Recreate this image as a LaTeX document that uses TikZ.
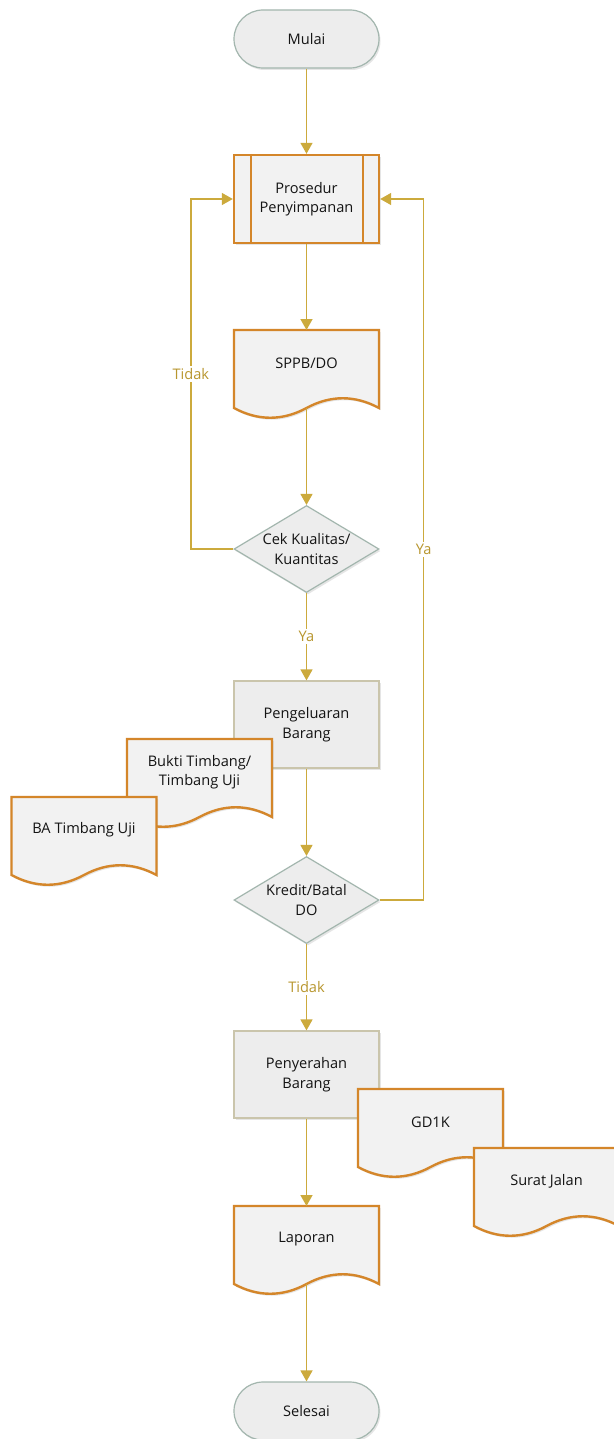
\documentclass[tikz,border=0pt]{standalone}
\usepackage{fontspec}
\setmainfont{Open Sans}
\usetikzlibrary{arrows.meta,shapes.geometric,shadows,calc}
\definecolor{gold}{RGB}{204,170,60}
\definecolor{goldtxt}{RGB}{184,150,46}
\definecolor{orng}{RGB}{212,134,42}
\definecolor{docfill}{RGB}{242,242,242}
\definecolor{termline}{RGB}{163,182,174}
\definecolor{procline}{RGB}{202,197,172}
\definecolor{shapefill}{RGB}{237,237,237}
\definecolor{txtcol}{RGB}{20,20,20}
\newcommand\docshape[4]{%
  \draw[docstyle] (#2-72.5,#3) -- (#2+72.5,#3) -- (#2+72.5,#3+78)
    .. controls (#2+48.5,#3+65) and (#2+24,#3+65) .. (#2,#3+78)
    .. controls (#2-24,#3+91) and (#2-48.5,#3+91) .. (#2-72.5,#3+78) -- cycle;
  \node[txt] (#1) at (#2,#3+33) {#4};
  \coordinate (#1-t) at (#2,#3);
  \coordinate (#1-b) at (#2,#3+78);
}
\begin{document}
\begin{tikzpicture}[x=1pt,y=-1pt,
  font=\fontsize{14.6}{19.5}\selectfont,
  shd/.style={drop shadow={opacity=0.2,shadow xshift=1.5pt,shadow yshift=-2pt}},
  txt/.style={align=center,text=txtcol,inner sep=1pt},
  term/.style={rectangle,rounded corners=29pt,draw=termline,line width=1.2pt,fill=shapefill,
    minimum width=145,minimum height=58,shd,text=txtcol},
  proc/.style={rectangle,draw=procline,line width=1.2pt,fill=shapefill,
    minimum width=145,minimum height=87,shd,align=center,text=txtcol},
  subproc/.style={rectangle,draw=orng,line width=2.4pt,fill=docfill,
    minimum width=145,minimum height=88,shd,align=center,text=txtcol},
  dia/.style={diamond,draw=termline,line width=1.2pt,fill=shapefill,
    minimum width=145,minimum height=87,inner sep=0pt,shd},
  docstyle/.style={draw=orng,line width=2.4pt,fill=docfill,shd},
  arr/.style={draw=gold,line width=1.4pt,-{Triangle[width=12pt,length=11pt]}},
  lbl/.style={fill=white,text=goldtxt,inner sep=2pt}]
\useasboundingbox (0,0) rectangle (613,1439);
\fill[white] (0,0) rectangle (613,1439);

\node[term] (mulai) at (306.5,39) {Mulai};
\node[subproc] (pros) at (306.5,199) {Prosedur\\Penyimpanan};
\draw[draw=orng,line width=2.4pt] ([xshift=18]pros.north west) -- ([xshift=18]pros.south west);
\draw[draw=orng,line width=2.4pt] ([xshift=-17]pros.north east) -- ([xshift=-17]pros.south east);

\docshape{sppb}{306.5}{330}{SPPB/DO}

\node[dia,label={[txt]center:Cek Kualitas/\\Kuantitas}] (cek) at (306.5,549) {};

\node[proc] (peng) at (306.5,724.5) {Pengeluaran\\Barang};
\docshape{bukti}{199.5}{739}{Bukti Timbang/\\Timbang Uji}
\docshape{ba}{84}{797}{BA Timbang Uji}

\node[dia,label={[txt]center:Kredit/Batal\\DO}] (kred) at (306.5,900) {};

\node[proc] (peny) at (306.5,1074.5) {Penyerahan\\Barang};
\docshape{gd}{430.5}{1089}{GD1K}
\docshape{sj}{546.5}{1148}{Surat Jalan}

\docshape{lap}{306.5}{1206}{Laporan}

\node[term] (sel) at (306.5,1411) {Selesai};

\draw[arr] (mulai.south) -- (pros.north);
\draw[arr] (pros.south) -- (sppb-t);
\draw[arr] (sppb-b) -- (cek.north);
\draw[arr] (cek.south) -- node[lbl]{Ya} (peng.north);
\draw[arr] (peng.south) -- (kred.north);
\draw[arr] (kred.south) -- node[lbl]{Tidak} (peny.north);
\draw[arr] (peny.south) -- (lap-t);
\draw[arr] (lap-b) -- (sel.north);
\draw[arr] (cek.west) -- ++(-42.5,0) |- node[lbl,pos=0.25]{Tidak} (pros.west);
\draw[arr] (kred.east) -- ++(44,0) |- node[lbl,pos=0.25]{Ya} (pros.east);
\end{tikzpicture}
\end{document}
